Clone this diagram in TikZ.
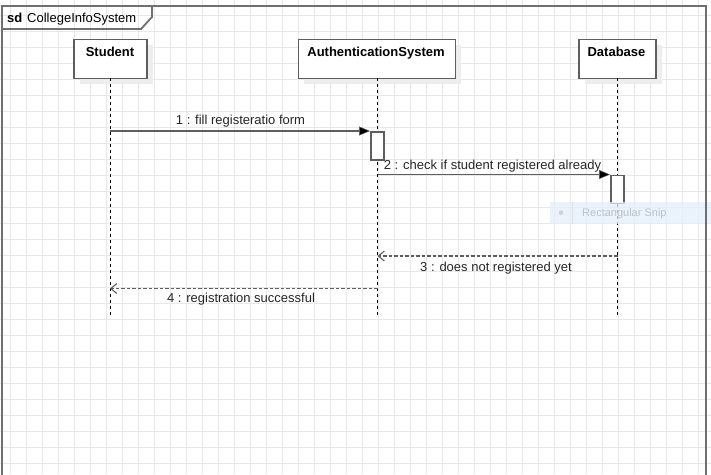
\documentclass[tikz,border=0pt]{standalone}
\usepackage{fontspec}
\setmainfont{Liberation Sans}
\usetikzlibrary{arrows.meta}
\definecolor{gridc}{HTML}{E8E8E8}
\definecolor{edgec}{HTML}{5E5E5E}
\definecolor{framec}{HTML}{707070}
\definecolor{shadowc}{HTML}{EDEDED}
\definecolor{snipc}{HTML}{E3EFFB}
\definecolor{sniptext}{HTML}{BCC2C8}
\begin{document}
\begin{tikzpicture}[x=1pt,y=-1pt,
  headbox/.style={draw=edgec,line width=1.8pt,fill=white,minimum width=#1,minimum height=39pt,inner sep=0pt,anchor=north west},
  headtext/.style={font=\fontsize{13}{15}\selectfont\bfseries,anchor=base,inner sep=0pt},
  actbox/.style={draw=edgec,line width=1.8pt,fill=white,minimum width=13pt,minimum height=28pt,inner sep=0pt,anchor=north west},
  lifeline/.style={black,line width=1pt,dash pattern=on 3pt off 3pt},
  syncmsg/.style={draw=edgec,line width=1.6pt,-{Triangle[length=11pt,width=9pt,fill=black,line width=0.5pt]}},
  retmsg/.style={draw=edgec,line width=1.5pt,dash pattern=on 3.5pt off 2pt,-{Straight Barb[length=6pt,width=10pt,line width=1.1pt]}},
  msglabel/.style={font=\fontsize{13}{15}\selectfont,text=black!85,anchor=base,inner sep=0pt}]
\useasboundingbox (0,0) rectangle (711,474);
\fill[white] (0,0) rectangle (711,474);
% grid
\foreach \gx in {10.7,26.7,...,711} \draw[gridc,line width=1pt] (\gx,0) -- (\gx,474);
\foreach \gy in {15,31,...,474} \draw[gridc,line width=1pt] (0,\gy) -- (711,\gy);
% frame
\draw[framec,line width=2.2pt] (2,480) -- (2,6) -- (706,6) -- (706,480);
\draw[framec,line width=1.8pt] (2,29) -- (141,29) -- (152,17) -- (152,6);
\node[font=\fontsize{13}{15}\selectfont\bfseries,anchor=base west,inner sep=0pt] (sd) at (7,22.5) {sd};
\node[font=\fontsize{13}{15}\selectfont,anchor=base west,inner sep=0pt] (title) at (27,22.5) {CollegeInfoSystem};
% shadows
\fill[shadowc] (80,45) rectangle (153,84);
\fill[shadowc] (304,45) rectangle (461,84);
\fill[shadowc] (585,45) rectangle (662,84);
% lifeline heads
\node[headbox=73pt] (stu) at (73,38.5) {};
\node[headbox=157pt] (auth) at (297.5,38.5) {};
\node[headbox=77pt] (db) at (578,38.5) {};
\node[headtext] (stut) at (110,56) {Student};
\node[headtext] (autht) at (376,56) {AuthenticationSystem};
\node[headtext] (dbt) at (616.5,56) {Database};
% lifelines
\coordinate (stuTop) at (110,78);
\coordinate (authTop) at (377.5,78);
\coordinate (dbTop) at (617.5,78);
\coordinate (stuEnd) at (110,317);
\coordinate (authEnd) at (377.5,317);
\coordinate (dbEnd) at (617.5,317);
\draw[lifeline] (stuTop) -- (stuEnd);
\draw[lifeline] (authTop) -- (authEnd);
\draw[lifeline] (dbTop) -- (dbEnd);
% activations
\node[actbox] (act1) at (370,131) {};
\node[actbox] (act2) at (610,174.5) {};
% snip overlay
\fill[snipc,opacity=0.75] (550,202) rectangle (711,223.5);
\draw[white!80!black,opacity=0.4] (572,202) -- (572,223.5);
\fill[white!82!black] (561,212.7) circle (2.3pt);
\node[font=\fontsize{11}{13}\selectfont,text=sniptext,anchor=base west,inner sep=0pt] (snip) at (582,216.5) {Rectangular Snip};
\draw[framec,line width=2.2pt] (706,195) -- (706,230);
% messages
\coordinate (m1s) at (110,131);
\coordinate (m2s) at (377.5,174.5);
\coordinate (m3s) at (617.5,256);
\coordinate (m3e) at (377.5,256);
\coordinate (m4s) at (377.5,288.5);
\coordinate (m4e) at (110,288.5);
\draw[syncmsg] (m1s) -- (act1.north west);
\draw[syncmsg] (m2s) -- (act2.north west);
\draw[retmsg] (m3s) -- (m3e);
\draw[retmsg] (m4s) -- (m4e);
\node[msglabel] (l1) at (240.5,124.5) {1 : fill registeratio form};
\node[msglabel] (l2) at (492.5,169.3) {2 : check if student registered already};
\node[msglabel] (l3) at (496,271.3) {3 : does not registered yet};
\node[msglabel] (l4) at (241,302.8) {4 : registration successful};
\end{tikzpicture}
\end{document}
